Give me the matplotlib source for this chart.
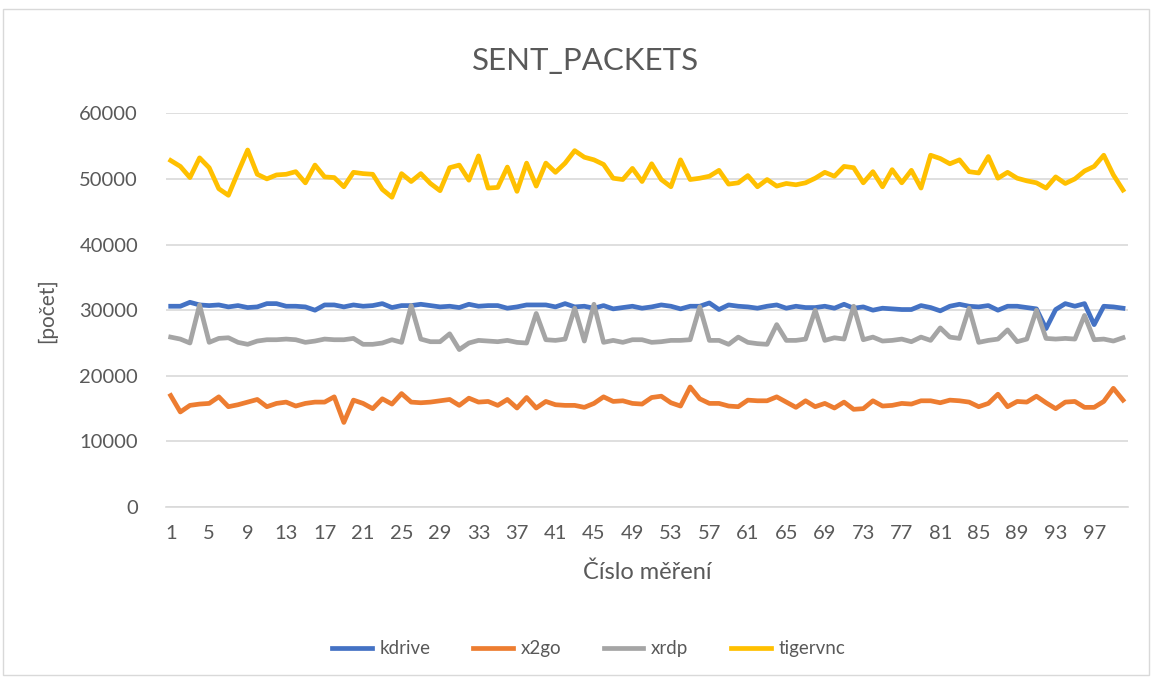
import matplotlib.pyplot as plt
from matplotlib.patches import Rectangle

measurements = list(range(1, 101))

kdrive = [30600, 30600, 31200, 30800, 30700, 30800, 30500, 30700, 30400, 30500,
          31000, 31000, 30600, 30600, 30500, 30000, 30800, 30800, 30500, 30800,
          30600, 30700, 31000, 30400, 30700, 30700, 30900, 30700, 30500, 30600,
          30400, 30900, 30600, 30700, 30700, 30300, 30500, 30800, 30800, 30800,
          30500, 31000, 30500, 30600, 30300, 30700, 30200, 30400, 30600, 30300,
          30500, 30800, 30600, 30200, 30600, 30600, 31100, 30100, 30800, 30600,
          30500, 30300, 30600, 30800, 30300, 30600, 30400, 30400, 30600, 30300,
          30900, 30300, 30500, 30000, 30300, 30200, 30100, 30100, 30700, 30400,
          29900, 30600, 30900, 30600, 30500, 30700, 30000, 30600, 30600, 30400,
          30200, 27200, 30100, 31000, 30600, 31000, 27800, 30600, 30500, 30300]

x2go = [17000, 14500, 15500, 15700, 15800, 16800, 15300, 15600, 16000, 16400,
        15300, 15800, 16000, 15400, 15800, 16000, 16000, 16800, 12900, 16300,
        15800, 15000, 16500, 15700, 17300, 16000, 15900, 16000, 16200, 16400,
        15500, 16600, 16000, 16100, 15500, 16400, 15100, 16700, 15100, 16100,
        15600, 15500, 15500, 15200, 15800, 16800, 16100, 16200, 15800, 15700,
        16700, 16900, 15900, 15400, 18300, 16500, 15800, 15800, 15400, 15300,
        16300, 16200, 16200, 16800, 16000, 15200, 16200, 15300, 15800, 15100,
        16000, 14900, 15000, 16200, 15400, 15500, 15800, 15700, 16200, 16200,
        15900, 16300, 16200, 16000, 15300, 15800, 17200, 15300, 16100, 16000,
        16900, 15900, 15000, 16000, 16100, 15200, 15200, 16100, 18100, 16300]

xrdp = [25900, 25600, 25000, 30800, 25100, 25700, 25800, 25100, 24800, 25300,
        25500, 25500, 25600, 25500, 25100, 25300, 25600, 25500, 25500, 25700,
        24800, 24800, 25000, 25500, 25100, 30700, 25600, 25200, 25200, 26400,
        24000, 25000, 25400, 25300, 25200, 25400, 25100, 25000, 29500, 25500,
        25400, 25600, 30300, 25300, 30900, 25100, 25400, 25100, 25500, 25500,
        25100, 25200, 25400, 25400, 25500, 30500, 25400, 25400, 24800, 25900,
        25100, 24900, 24800, 27800, 25400, 25400, 25600, 30000, 25400, 25800,
        25600, 30600, 25500, 25900, 25300, 25400, 25600, 25200, 25900, 25400,
        27300, 25900, 25700, 30300, 25100, 25400, 25600, 27000, 25200, 25600,
        30000, 25700, 25600, 25700, 25600, 29200, 25500, 25600, 25300, 25800]

tigervnc = [52800, 51900, 50200, 53200, 51700, 48500, 47500, 51000, 54400, 50700,
            50000, 50600, 50700, 51100, 49400, 52100, 50300, 50200, 48800, 51000,
            50800, 50700, 48400, 47200, 50800, 49600, 50800, 49300, 48200, 51700,
            52100, 49800, 53500, 48600, 48700, 51800, 48100, 52400, 48900, 52400,
            51000, 52400, 54300, 53300, 52900, 52200, 50100, 49900, 51600, 49600,
            52300, 49900, 48800, 52900, 49900, 50100, 50400, 51300, 49200, 49400,
            50500, 48800, 49900, 48900, 49300, 49100, 49400, 50100, 51000, 50400,
            51900, 51700, 49400, 51100, 48800, 51400, 49400, 51300, 48600, 53600,
            53100, 52300, 52900, 51100, 50900, 53400, 50100, 51000, 50100, 49700,
            49400, 48600, 50300, 49300, 50000, 51200, 51900, 53600, 50600, 48300]

series = [("kdrive", kdrive, "#4472C4"),
          ("x2go", x2go, "#ED7D31"),
          ("xrdp", xrdp, "#A5A5A5"),
          ("tigervnc", tigervnc, "#FFC000")]

plt.rcParams['font.family'] = ['Lato', 'DejaVu Sans']
txtcolor = "#595959"

fig = plt.figure(figsize=(11.52, 6.78), dpi=100)
ax = fig.add_axes([0.144, 0.252, 0.835, 0.581])

for name, vals, col in series:
    ax.plot(measurements, vals, color=col, lw=3.4, label=name, solid_joinstyle="round")

ax.set_xlim(0.5, 100.5)
ax.set_ylim(0, 60000)
ax.set_yticks(range(0, 60001, 10000))
ax.set_xticks(measurements[::4])
ax.tick_params(length=0, labelsize=14.5, colors=txtcolor)
ax.tick_params(axis="y", pad=20)
ax.tick_params(axis="x", pad=13)
ax.grid(axis="y", color="#D9D9D9", lw=1.2)
ax.set_axisbelow(True)
for s in ["top", "right", "left"]:
    ax.spines[s].set_visible(False)
ax.spines["bottom"].set_color("#D9D9D9")
ax.spines["bottom"].set_linewidth(1.2)

ax.set_ylabel("[počet]", fontsize=15, color=txtcolor, labelpad=16)
ax.set_xlabel("Číslo měření", fontsize=17, color=txtcolor, labelpad=14)
fig.text(0.508, 0.91, "SENT_PACKETS", ha="center", va="center", fontsize=22.5, color=txtcolor)

fig.legend(loc="center", bbox_to_anchor=(0.511, 0.043), ncol=4, frameon=False,
           fontsize=13.5, handlelength=2.1, handletextpad=0.4, columnspacing=2.3,
           labelcolor=txtcolor)

fig.patches.append(Rectangle((0.003, 0.005), 0.994, 0.982, transform=fig.transFigure,
                             fill=False, edgecolor="#D9D9D9", lw=1))

fig.savefig("out.png", dpi=100)
